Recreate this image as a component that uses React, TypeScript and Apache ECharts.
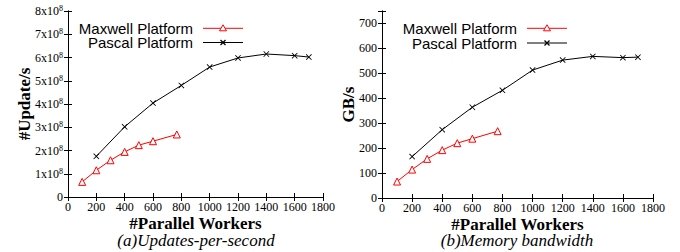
import React, { useEffect, useRef } from "react";
import * as echarts from "echarts";

// Workers (x values)
const maxwellWorkers = [100, 200, 300, 400, 500, 600, 768];
const pascalWorkers = [200, 400, 600, 800, 1000, 1200, 1400, 1600, 1700];

// (a) Updates per second, in units of 10^8
const maxwellUpdates = [0.65, 1.15, 1.58, 1.94, 2.23, 2.4, 2.69];
const pascalUpdates = [1.75, 3.02, 4.04, 4.8, 5.59, 5.98, 6.15, 6.08, 6.02];

// (b) Memory bandwidth, GB/s
const maxwellBandwidth = [66, 114, 157, 192, 220, 238, 268];
const pascalBandwidth = [166, 274, 364, 432, 513, 553, 568, 563, 565];

const seriesNames = ["Maxwell Platform", "Pascal Platform"];
const captions = ["(a)Updates-per-second", "(b)Memory bandwidth"];
const yNames = ["#Update/s", "GB/s"];
const xName = "#Parallel Workers";

const SERIF = "'Liberation Serif', 'Times New Roman', serif";
const SANS = "'Liberation Sans', Arial, sans-serif";
const RED = "#ff0000";
const BLACK = "#000000";
const X_SYMBOL = "path://M0,1L1,0L5,4L9,0L10,1L6,5L10,9L9,10L5,6L1,10L0,9L4,5Z";

const zip = (xs: number[], ys: number[]) => xs.map((x, i) => [x, ys[i]]);

export default function App() {
  const ref = useRef<HTMLDivElement>(null);
  useEffect(() => {
    if (!ref.current) return;
    const chart = echarts.init(ref.current, null, { renderer: "svg" });

    const tickStyle = { show: true, inside: true, length: 4, lineStyle: { color: BLACK, width: 1 } };
    const lineStyle = { show: true, lineStyle: { color: BLACK, width: 1 } };
    const labelStyle = { color: BLACK, fontFamily: SERIF, fontSize: 12 };

    const xAxisBase = (grid: number) => ({
      type: "value" as const,
      gridIndex: grid,
      min: 0,
      max: 1800,
      interval: 200,
      splitLine: { show: false },
      axisLine: lineStyle,
      axisTick: tickStyle,
    });

    const grids = [
      { left: 68, top: 11, width: 255, height: 186 },
      { left: 382, top: 11, width: 271, height: 187 },
    ];

    const legendGraphic = (textRight: number, lineStart: number, y1: number, y2: number) => {
      const cx = lineStart + 20;
      return [
        { type: "text", style: { text: seriesNames[0], x: textRight, y: y1, textAlign: "right", textVerticalAlign: "middle", font: `15px ${SANS}`, fill: BLACK } },
        { type: "text", style: { text: seriesNames[1], x: textRight, y: y2, textAlign: "right", textVerticalAlign: "middle", font: `15px ${SANS}`, fill: BLACK } },
        { type: "line", shape: { x1: lineStart, y1, x2: lineStart + 40, y2: y1 }, style: { stroke: RED, lineWidth: 1 } },
        { type: "polygon", shape: { points: [[cx, y1 - 3.5], [cx + 3.5, y1 + 2.5], [cx - 3.5, y1 + 2.5]] }, style: { fill: "#fff", stroke: RED, lineWidth: 1 } },
        { type: "line", shape: { x1: lineStart, y1: y2, x2: lineStart + 40, y2 }, style: { stroke: BLACK, lineWidth: 1 } },
        { type: "line", shape: { x1: cx - 2.5, y1: y2 - 2.5, x2: cx + 2.5, y2: y2 + 2.5 }, style: { stroke: BLACK, lineWidth: 1.2 } },
        { type: "line", shape: { x1: cx - 2.5, y1: y2 + 2.5, x2: cx + 2.5, y2: y2 - 2.5 }, style: { stroke: BLACK, lineWidth: 1.2 } },
      ];
    };

    const makeSeries = (name: string, data: number[][], axis: number, isMaxwell: boolean) => ({
      type: "line" as const,
      name,
      xAxisIndex: axis,
      yAxisIndex: axis,
      data,
      symbol: isMaxwell ? "triangle" : X_SYMBOL,
      symbolSize: isMaxwell ? 7 : 6,
      lineStyle: { color: isMaxwell ? RED : BLACK, width: 1 },
      itemStyle: isMaxwell
        ? { color: "#ffffff", borderColor: RED, borderWidth: 1 }
        : { color: BLACK },
      z: isMaxwell ? 3 : 2,
    });

    const nameStyle = { color: BLACK, fontFamily: SERIF, fontSize: 17, fontWeight: "bold" };

    chart.setOption({
      animation: false,
      backgroundColor: "#ffffff",
      grid: grids,
      xAxis: [
        {
          ...xAxisBase(0),
          position: "bottom",
          axisLabel: { ...labelStyle, margin: 4, formatter: (v: number) => String(v) },
          name: xName,
          nameLocation: "middle",
          nameGap: 18,
          nameMoveOverlap: false,
          nameTextStyle: nameStyle,
        },
        { ...xAxisBase(0), position: "top", axisLabel: { show: false } },
        {
          ...xAxisBase(1),
          position: "bottom",
          axisLabel: { ...labelStyle, margin: 4, formatter: (v: number) => String(v) },
          name: xName,
          nameLocation: "middle",
          nameGap: 18,
          nameMoveOverlap: false,
          nameTextStyle: nameStyle,
        },
        { ...xAxisBase(1), position: "top", axisLabel: { show: false } },
      ],
      yAxis: [
        {
          type: "value",
          gridIndex: 0,
          position: "left",
          min: 0,
          max: 8,
          interval: 1,
          splitLine: { show: false },
          axisLine: lineStyle,
          axisTick: tickStyle,
          axisLabel: {
            ...labelStyle,
            margin: 5,
            formatter: (v: number) => (v === 0 ? "0" : `{b|${Math.round(v)}x10}{s|8}`),
            rich: {
              b: { fontFamily: SERIF, fontSize: 12, color: BLACK },
              s: { fontFamily: SERIF, fontSize: 8, color: BLACK, verticalAlign: "top", padding: [0, 0, 5, 0] },
            },
          },
          name: yNames[0],
          nameLocation: "middle",
          nameGap: 35,
          nameRotate: 90,
          nameMoveOverlap: false,
          nameTextStyle: nameStyle,
        },
        {
          type: "value",
          gridIndex: 0,
          position: "right",
          min: 0,
          max: 8,
          interval: 1,
          splitLine: { show: false },
          axisLine: lineStyle,
          axisTick: tickStyle,
          axisLabel: { show: false },
        },
        {
          type: "value",
          gridIndex: 1,
          position: "left",
          min: 0,
          max: 750,
          interval: 100,
          splitLine: { show: false },
          axisLine: lineStyle,
          axisTick: tickStyle,
          axisLabel: {
            ...labelStyle,
            margin: 5,
            formatter: (v: number) => (v > 700 ? "" : String(v)),
          },
          name: yNames[1],
          nameLocation: "middle",
          nameGap: 25,
          nameRotate: 90,
          nameMoveOverlap: false,
          nameTextStyle: nameStyle,
        },
        {
          type: "value",
          gridIndex: 1,
          position: "right",
          min: 0,
          max: 750,
          interval: 100,
          splitLine: { show: false },
          axisLine: lineStyle,
          axisTick: tickStyle,
          axisLabel: { show: false },
        },
      ],
      series: [
        makeSeries(seriesNames[1], zip(pascalWorkers, pascalUpdates), 0, false),
        makeSeries(seriesNames[0], zip(maxwellWorkers, maxwellUpdates), 0, true),
        makeSeries(seriesNames[1], zip(pascalWorkers, pascalBandwidth), 2, false),
        makeSeries(seriesNames[0], zip(maxwellWorkers, maxwellBandwidth), 2, true),
      ],
      graphic: [
        ...legendGraphic(193, 203, 28.3, 42.5),
        ...legendGraphic(517, 527, 28.3, 43),
        { type: "text", style: { text: captions[0], x: 196, y: 240, textAlign: "center", textVerticalAlign: "middle", font: `italic 17px ${SERIF}`, fill: BLACK } },
        { type: "text", style: { text: captions[1], x: 517, y: 240, textAlign: "center", textVerticalAlign: "middle", font: `italic 17px ${SERIF}`, fill: BLACK } },
      ],
    });

    return () => chart.dispose();
  }, []);

  return <div ref={ref} style={{ position: "absolute", left: 0, top: 0, width: 680, height: 252 }} />;
}
